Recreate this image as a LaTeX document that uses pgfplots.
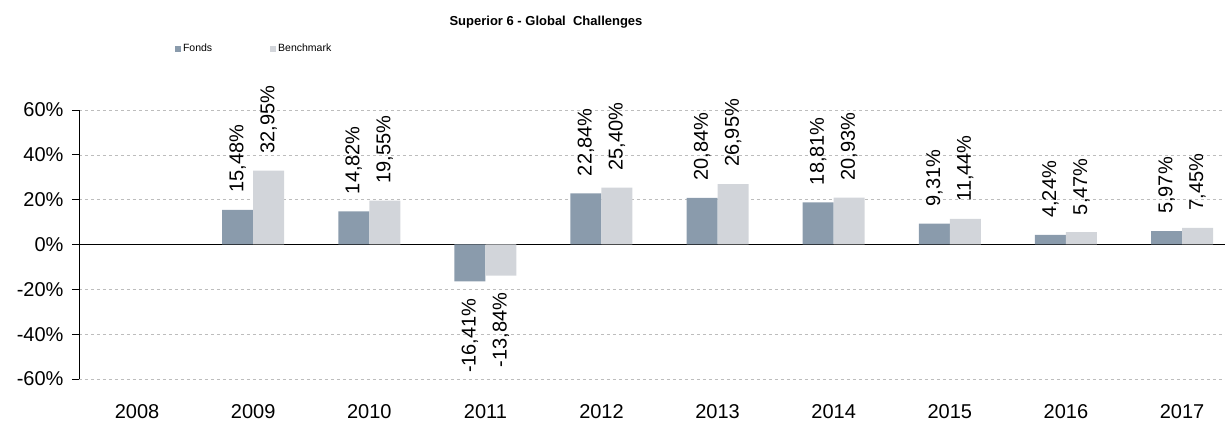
\documentclass[border=0pt]{standalone}
\usepackage{pgfplots}
\pgfplotsset{compat=1.18}
\usepackage{fontspec}
\setmainfont{Liberation Sans}
\definecolor{fonds}{HTML}{8A9BAC}
\definecolor{bench}{HTML}{D2D5DA}
\definecolor{gridc}{HTML}{BDBDBD}
\begin{document}
\begin{tikzpicture}
\begin{axis}[
  scale only axis,
  width=1146pt, height=269pt,
  xmin=-0.5, xmax=9.37,
  ymin=-60, ymax=60,
  ybar=0pt, bar width=31pt,
  axis x line=none,
  axis y line*=left,
  y axis line style={black, line width=0.8pt},
  ytick={-60,-40,-20,0,20,40,60},
  yticklabel={\pgfmathprintnumber{\tick}\%},
  yticklabel style={font=\fontsize{20}{21}\selectfont, xshift=-5pt},
  ytick style={black, line width=0.8pt},
  tick align=outside,
  major tick length=7pt,
  ymajorgrids,
  major grid style={gridc, dashed, line width=0.6pt},
  extra y ticks={0},
  extra y tick labels={},
  extra y tick style={grid=major, major grid style={black, solid, line width=0.9pt}, major tick length=0pt},
  /pgf/number format/assume math mode=true,
  nodes near coords={\pgfmathprintnumber[fixed,fixed zerofill,precision=2,use comma]{\pgfplotspointmeta}\%},
  nodes near coords align=horizontal,
  every node near coord/.append style={rotate=90, font=\fontsize{20}{21}\selectfont, inner xsep=17pt, /pgf/number format/assume math mode=true},
  clip=false,
  legend style={at={(rel axis cs:0.081,1.227)}, anchor=west, draw=none, fill=none,
    font=\fontsize{10.5}{11}\selectfont, legend columns=2,
    /tikz/every even column/.append style={column sep=56pt}},
  legend image code/.code={\fill[#1] (0pt,-3pt) rectangle (6pt,3pt);},
]
\addplot[fill=fonds, draw=none] coordinates {(1,15.48) (2,14.82) (3,-16.41) (4,22.84) (5,20.84) (6,18.81) (7,9.31) (8,4.24) (9,5.97)};
\addplot[fill=bench, draw=none] coordinates {(1,32.95) (2,19.55) (3,-13.84) (4,25.40) (5,26.95) (6,20.93) (7,11.44) (8,5.47) (9,7.45)};
\legend{Fonds, Benchmark}
\foreach \i/\yr in {0/2008,1/2009,2/2010,3/2011,4/2012,5/2013,6/2014,7/2015,8/2016,9/2017} {
  \edef\tmp{\noexpand\node[font=\noexpand\fontsize{20}{21}\noexpand\selectfont] at (axis cs:\i,-60) [yshift=-33pt] {\yr};}\tmp
}
\node[font=\bfseries\fontsize{13}{14}\selectfont] at (rel axis cs:0.4075,1.327) {Superior 6 - Global\ \ Challenges};
\coordinate (bl) at (rel axis cs:0,0);
\coordinate (tr) at (rel axis cs:1,1);
\end{axis}
\pgfresetboundingbox
\path ([shift={(-79pt,-49pt)}]bl) rectangle ([shift={(0pt,110pt)}]tr);
\end{tikzpicture}
\end{document}
